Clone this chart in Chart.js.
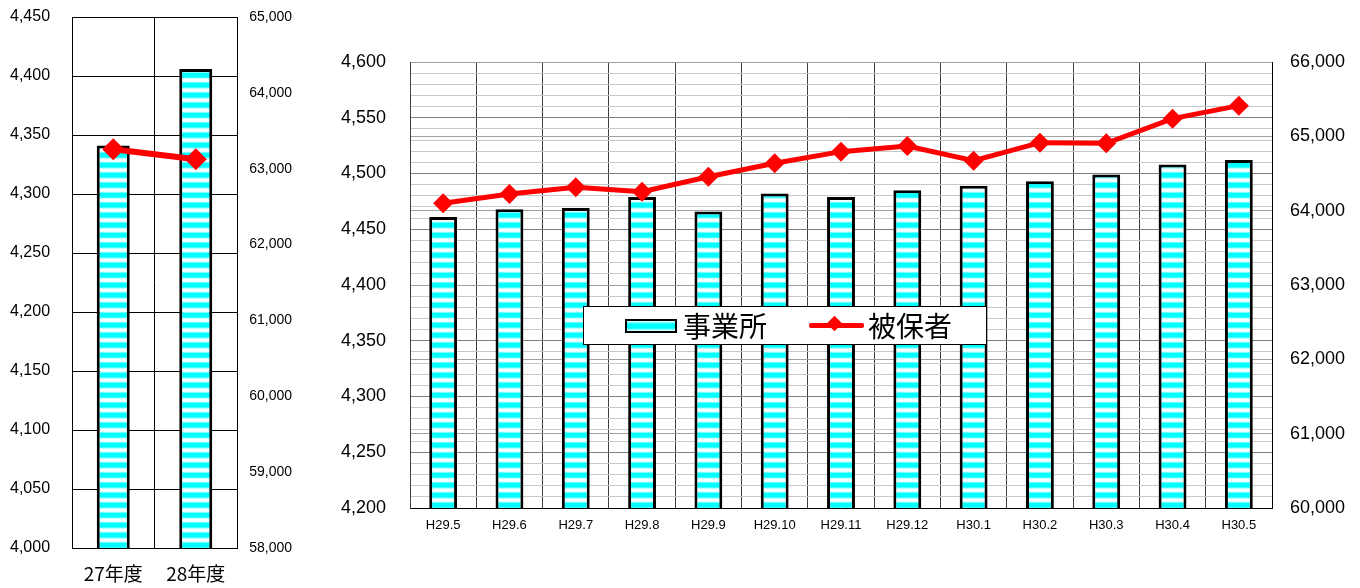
<!DOCTYPE html>
<html><head><meta charset="utf-8">
<script src="https://cdn.jsdelivr.net/npm/chart.js@4"></script>
<style>
html,body{margin:0;padding:0;background:#fff;width:1360px;height:588px;overflow:hidden;position:relative}
#c1{position:absolute;left:0;top:0}
#c2{position:absolute;left:330px;top:0}
#legend{position:absolute;left:583px;top:306px;width:402px;height:37px;border:1px solid #000;background:#fff;font-family:"Noto Sans CJK JP","Noto Sans CJK SC",sans-serif;font-size:28px;color:#000}
#legend span{position:absolute;top:0px;line-height:36px;white-space:nowrap}
#sw1{position:absolute;left:41px;top:12px;width:48px;height:10px;border:2px solid #000;background:linear-gradient(#fff 0%,#00ffff 30%,#00ffff 70%,#fff 100%)}
#sw2{position:absolute;left:225px;top:16px;width:55px;height:5px;background:#f00;border-radius:2px}
#sw2d{position:absolute;left:245px;top:11px;width:11px;height:11px;background:#f00;transform:rotate(45deg)}
</style></head>
<body>
<canvas id="c1" width="310" height="588"></canvas>
<canvas id="c2" width="1030" height="588"></canvas>
<div id="legend">
  <div id="sw1"></div><span style="left:99px">事業所</span>
  <div id="sw2"></div><div id="sw2d"></div><span style="left:284px">被保者</span>
</div>
<script>
const yearCats = ['27年度', '28年度'];
const yearOffices = [4341, 4406];
const yearInsured = [63256, 63124];

const monthCats = ['H29.5','H29.6','H29.7','H29.8','H29.9','H29.10','H29.11','H29.12','H30.1','H30.2','H30.3','H30.4','H30.5'];
const monthOffices = [4461, 4468, 4469, 4479, 4466, 4482, 4479, 4485, 4489, 4493, 4499, 4508, 4512];
const monthInsured = [64100, 64224, 64314, 64256, 64457, 64637, 64794, 64870, 64673, 64915, 64906, 65238, 65413];

const seriesNames = ['事業所', '被保者'];

Chart.defaults.color = '#000';
Chart.defaults.font.family = '"Liberation Sans", Arial, sans-serif';

function stripe() {
  const c = document.createElement('canvas');
  c.width = 8; c.height = 10;
  const g = c.getContext('2d');
  const gr = g.createLinearGradient(0, 0, 0, 10);
  gr.addColorStop(0, '#ffffff');
  gr.addColorStop(0.15, '#e0ffff');
  gr.addColorStop(0.35, '#00ffff');
  gr.addColorStop(0.7, '#00ffff');
  gr.addColorStop(0.88, '#e0ffff');
  gr.addColorStop(1, '#ffffff');
  g.fillStyle = gr;
  g.fillRect(0, 0, 8, 10);
  return g.createPattern(c, 'repeat');
}
const fmt = v => Number(v).toLocaleString('en-US');

// Left chart (annual)
new Chart(document.getElementById('c1'), {
  type: 'bar',
  data: {
    labels: yearCats,
    datasets: [
      { type: 'line', label: seriesNames[1], data: yearInsured, yAxisID: 'y1', order: 0,
        borderColor: '#ff0000', backgroundColor: '#ff0000', borderWidth: 6, tension: 0,
        pointStyle: 'rectRot', pointRadius: 11, pointBorderWidth: 0, pointBackgroundColor: '#ff0000' },
      { type: 'bar', label: seriesNames[0], data: yearOffices, yAxisID: 'y', order: 1,
        backgroundColor: stripe(), borderColor: '#000', borderWidth: 3, borderSkipped: false,
        barPercentage: 0.4, categoryPercentage: 1 }
    ]
  },
  options: {
    responsive: false, animation: false, devicePixelRatio: 1,
    layout: { autoPadding: false, padding: { top: 17, right: 18, bottom: 0, left: 10 } },
    plugins: { legend: { display: false }, tooltip: { enabled: false } },
    scales: {
      x: {
        grid: { color: '#000', drawTicks: false, offset: true },
        border: { color: '#000' },
        ticks: { font: { size: 19, family: '"Noto Sans CJK JP", sans-serif' }, padding: 14 },
        afterFit: s => { s.height = 40; }
      },
      y: {
        position: 'left', min: 4000, max: 4450,
        ticks: { stepSize: 50, maxTicksLimit: 100, autoSkip: false, font: { size: 16 }, padding: 0, crossAlign: 'far', callback: v => fmt(v) },
        grid: { color: '#000', drawTicks: false },
        border: { color: '#000' },
        afterFit: s => { s.width = 62; }
      },
      y1: {
        position: 'right', min: 58000, max: 65000,
        ticks: { stepSize: 1000, maxTicksLimit: 100, autoSkip: false, font: { size: 14 }, padding: 0, crossAlign: 'far', callback: v => fmt(v) },
        grid: { drawOnChartArea: false, drawTicks: false },
        border: { color: '#000' },
        afterFit: s => { s.width = 55; }
      }
    }
  }
});

// Right chart (monthly)
new Chart(document.getElementById('c2'), {
  type: 'bar',
  data: {
    labels: monthCats,
    datasets: [
      { type: 'line', label: seriesNames[1], data: monthInsured, yAxisID: 'y1', order: 0,
        borderColor: '#ff0000', backgroundColor: '#ff0000', borderWidth: 5, tension: 0,
        pointStyle: 'rectRot', pointRadius: 10, pointBorderWidth: 0, pointBackgroundColor: '#ff0000' },
      { type: 'bar', label: seriesNames[0], data: monthOffices, yAxisID: 'y', order: 1,
        backgroundColor: stripe(), borderColor: '#000', borderWidth: 3, borderSkipped: false,
        barPercentage: 0.42, categoryPercentage: 1 }
    ]
  },
  options: {
    responsive: false, animation: false, devicePixelRatio: 1,
    layout: { autoPadding: false, padding: { top: 62, right: 0, bottom: 0, left: 0 } },
    plugins: { legend: { display: false }, tooltip: { enabled: false } },
    scales: {
      x: {
        grid: { color: '#404040', drawTicks: false, offset: true },
        border: { color: '#000' },
        ticks: { font: { size: 13 }, padding: 10 },
        afterFit: s => { s.height = 80; }
      },
      y: {
        position: 'left', min: 4200, max: 4600,
        ticks: { stepSize: 10, maxTicksLimit: 100, autoSkip: false, font: { size: 18 }, padding: 24,
          callback: v => (Math.round(v) % 50 === 0 ? fmt(v) : '') },
        grid: { drawTicks: false, color: ctx => (ctx.tick && Math.round(ctx.tick.value) % 50 === 0 ? '#808080' : '#c8c8c8') },
        border: { color: '#404040' },
        afterFit: s => { s.width = 80; }
      },
      y1: {
        position: 'right', min: 60000, max: 66000,
        ticks: { stepSize: 1000, maxTicksLimit: 100, autoSkip: false, font: { size: 18 }, padding: 18, callback: v => fmt(v) },
        grid: { drawTicks: false, color: '#a0a0a0' },
        border: { color: '#000' },
        afterFit: s => { s.width = 88; }
      }
    }
  }
});
</script>
</body></html>
